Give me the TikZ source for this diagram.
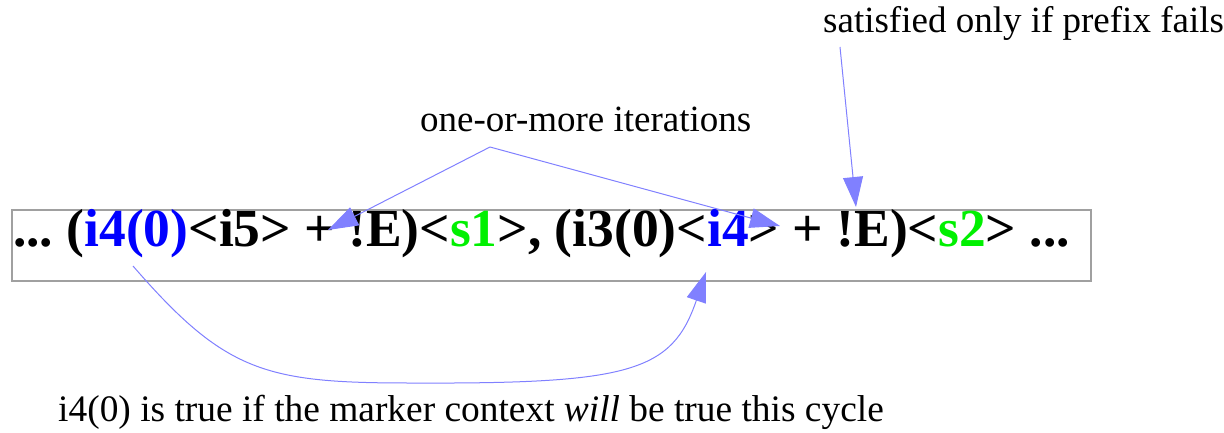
\documentclass[tikz,border=0pt]{standalone}
\usepackage{fontspec}
\setmainfont{Liberation Serif}
\usetikzlibrary{arrows.meta}
\definecolor{arrowblue}{RGB}{128,128,255}
\definecolor{boxgray}{RGB}{160,160,160}
\definecolor{codeblue}{RGB}{0,0,255}
\definecolor{codegreen}{RGB}{0,240,0}
\tikzset{
  note/.style={inner sep=0pt, anchor=base west, font=\fontsize{37}{41}\selectfont},
  code/.style={inner sep=0pt, anchor=base west, font=\fontsize{53.5}{57}\selectfont\bfseries},
  pointer/.style={draw=arrowblue, line width=1pt, -{Triangle[length=30pt,width=20pt,fill=arrowblue]}},
}
\begin{document}
\begin{tikzpicture}[x=1pt,y=-1pt]
\useasboundingbox (0,0) rectangle (1224,433);
\draw[boxgray, line width=1.5pt] (12,210) rectangle (1091,281);
\node[code] (expr) at (13,246) {...~(\textcolor{codeblue}{i4(0)}<i5>~+~!E)<\textcolor{codegreen}{s1}>,~(i3(0)<\textcolor{codeblue}{i4}>~+~!E)<\textcolor{codegreen}{s2}>~...};
\node[note] (sat) at (823,33) {satisfied only if prefix fails};
\node[note] (iter) at (420,132) {one-or-more iterations};
\node[note, font=\fontsize{37.4}{41}\selectfont] (will) at (58,421) {i4(0) is true if the marker context \textit{will} be true this cycle};
\coordinate (iterfoot) at (490,147);
\coordinate (sattail) at (840,47);
\coordinate (plusone) at (328,230);
\coordinate (gtfour) at (780,226);
\coordinate (notE) at (856,207);
\coordinate (izero) at (133,266);
\coordinate (ifour) at (706,272);
\coordinate (bottom) at (410,383);
\draw[pointer] (iterfoot) -- (plusone);
\draw[pointer] (iterfoot) -- (gtfour);
\draw[pointer] (sattail) -- (notE);
\draw[pointer] (izero) .. controls (225,372) and (265,383) .. (bottom) .. controls (630,384) and (672,372) .. (ifour);
\end{tikzpicture}
\end{document}
